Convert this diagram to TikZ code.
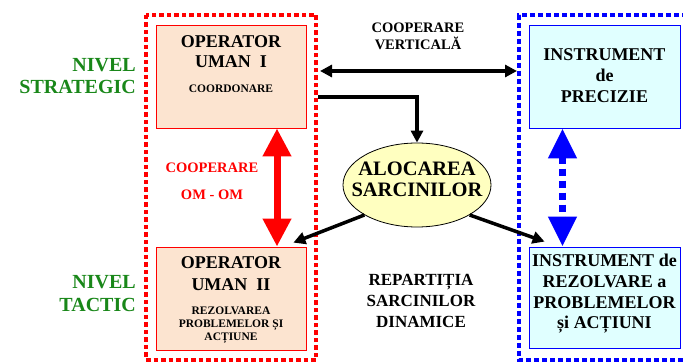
\documentclass[tikz,border=0pt]{standalone}
\usepackage{fontspec}
\setmainfont{Liberation Serif}
\usetikzlibrary{arrows.meta,shapes.geometric,positioning}
\definecolor{nivgreen}{RGB}{25,135,25}
\definecolor{omfill}{RGB}{252,228,208}
\definecolor{infill}{RGB}{224,255,255}
\definecolor{alocfill}{RGB}{255,255,192}

\begin{document}
\begin{tikzpicture}[x=1pt,y=-1pt,
    omframe/.style={draw=red,line width=4.5pt,dash pattern=on 4.5pt off 3pt},
    inframe/.style={draw=blue,line width=4pt,dash pattern=on 5pt off 3pt},
    ombox/.style={draw=red,fill=omfill,line width=0.8pt,minimum width=150pt,minimum height=103pt,inner sep=0pt},
    inbox/.style={draw=blue,fill=infill,line width=0.8pt,minimum width=151pt,inner sep=0pt},
    bigtext/.style={font=\bfseries\fontsize{18}{#1}\selectfont,align=center,inner sep=0pt},
    smalltext/.style={font=\bfseries\fontsize{11.5}{13}\selectfont,align=center,inner sep=0pt},
    nivtext/.style={font=\bfseries\fontsize{20}{22.5}\selectfont,text=nivgreen,align=right,anchor=east,inner sep=0pt},
    taskline/.style={line width=3.5pt,-{Triangle[length=12pt,width=12pt]}},
    coopline/.style={line width=3.5pt,{Triangle[length=12pt,width=12pt]}-{Triangle[length=12pt,width=12pt]}},
    omline/.style={draw=red,line width=7pt,{Triangle[length=28pt,width=27pt]}-{Triangle[length=28pt,width=27pt]}},
    inline/.style={draw=blue,line width=7pt,dash pattern=on 7pt off 5pt,{Triangle[length=30pt,width=27pt]}-{Triangle[length=30pt,width=27pt]}}]
\useasboundingbox (0,0) rectangle (683,363);
\clip (0,0) rectangle (683,363);

% frames
\draw[omframe] (146,15) rectangle (316,360);
\draw[inframe] (695,15) -- (519,15) -- (519,360) -- (695,360);

% levels
\node[nivtext] (strat) at (136,76) {NIVEL\\STRATEGIC};
\node[nivtext] (tact) at (136,293.5) {NIVEL\\TACTIC};

% human operators
\node[ombox] (op1) at (231,76.5) {};
\node[bigtext=20] (op1t) at (231,52) {OPERATOR\\UMAN~~I};
\node[smalltext] (op1s) at (231,89) {COORDONARE};
\node[ombox] (op2) at (231,298.5) {};
\node[bigtext=22] (op2t) at (231,274) {OPERATOR\\UMAN~~II};
\node[smalltext] (op2s) at (231,325) {REZOLVAREA\\PROBLEMELOR ȘI\\ACȚIUNE};

% instruments
\node[inbox,minimum height=103pt] (ip) at (604.5,76.5) {};
\node[bigtext=21] (ipt) at (604.5,76) {INSTRUMENT\\de\\PRECIZIE};
\node[inbox,minimum height=101pt] (ir) at (604.5,297.5) {};
\node[bigtext=20.7] (irt) at (604.5,294) {INSTRUMENT de\\REZOLVARE a\\PROBLEMELOR\\și ACȚIUNI};

% allocation
\node[ellipse,draw,fill=alocfill,line width=0.8pt,minimum width=148pt,minimum height=84pt,inner sep=0pt] (aloc) at (417,185) {};
\node[font=\bfseries\fontsize{20.5}{21}\selectfont,align=center,inner sep=0pt] (aloct) at (417,179.5) {ALOCAREA\\SARCINILOR};

% labels
\node[font=\bfseries\fontsize{14.5}{17}\selectfont,align=center,inner sep=0pt] (cvert) at (418,36.5) {COOPERARE\\VERTICALĂ};
\node[font=\bfseries\fontsize{14.5}{27}\selectfont,text=red,align=center,inner sep=0pt] (coopom) at (212,181.5) {COOPERARE\\OM - OM};
\node[font=\bfseries\fontsize{17}{21}\selectfont,align=center,inner sep=0pt] (repart) at (421,301) {REPARTIȚIA\\SARCINILOR\\DINAMICE};

% connectors
\coordinate (cvleft) at (320,71);
\coordinate (cvright) at (517,71);
\coordinate (alocin) at (318,97);
\draw[coopline] (cvleft) -- (cvright);
\draw[taskline] (alocin) -| (aloc.north);
\draw[omline] ([xshift=46pt]op1.south) -- ([xshift=46pt]op2.north);
\draw[inline] ([xshift=-42pt]ip.south) -- ([xshift=-42pt]ir.north);
\draw[taskline] (aloc.south west) -- ([xshift=-13pt,yshift=4pt]op2.north east);
\draw[taskline] (aloc.south east) -- ([xshift=16pt,yshift=5pt]ir.north west);
\end{tikzpicture}
\end{document}
